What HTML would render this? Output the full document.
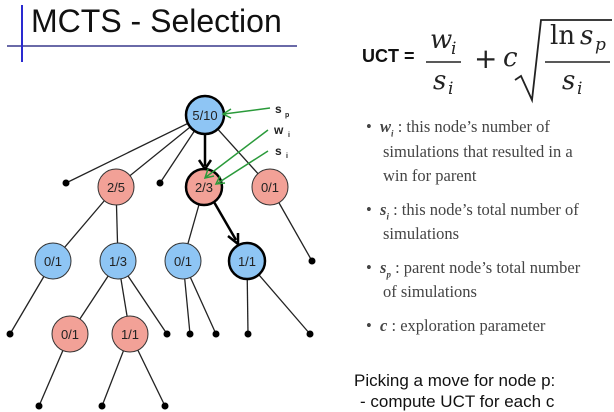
<!DOCTYPE html>
<html><head><style>
body{margin:0;width:614px;height:410px;overflow:hidden;background:#fff;position:relative;font-family:"Liberation Sans",sans-serif}
.t{position:absolute;white-space:nowrap}
.b{font-family:"Liberation Serif",serif;font-size:16.5px;color:#444;line-height:24.5px}
</style></head><body>
<svg width="614" height="410" style="position:absolute;left:0;top:0">
<line x1="7" y1="46" x2="297" y2="46" stroke="#6a6aa8" stroke-width="2"/>
<line x1="22" y1="5" x2="22" y2="62" stroke="#2a2ad0" stroke-width="2"/>
<g stroke="#222" stroke-width="1.3">
<line x1="205" y1="115" x2="66" y2="183"/><line x1="205" y1="115" x2="116" y2="187"/>
<line x1="205" y1="115" x2="160" y2="183"/><line x1="205" y1="115" x2="270" y2="187"/>
<line x1="116" y1="187" x2="53" y2="261"/><line x1="116" y1="187" x2="118" y2="261"/>
<line x1="204" y1="187" x2="183" y2="261"/>
<line x1="270" y1="187" x2="312" y2="261"/>
<line x1="53" y1="261" x2="10" y2="334"/>
<line x1="118" y1="261" x2="70" y2="334"/><line x1="118" y1="261" x2="130" y2="334"/><line x1="118" y1="261" x2="167" y2="334"/>
<line x1="183" y1="261" x2="190" y2="334"/><line x1="183" y1="261" x2="216" y2="334"/>
<line x1="247" y1="261" x2="248" y2="334"/><line x1="247" y1="261" x2="310" y2="334"/>
<line x1="70" y1="334" x2="39" y2="406"/>
<line x1="130" y1="334" x2="102" y2="406"/><line x1="130" y1="334" x2="165" y2="406"/>
</g>
<g stroke="#000" stroke-width="2.5" fill="none">
<line x1="205" y1="133" x2="205" y2="166"/><polyline points="199,160 205,169 211,160"/>
<line x1="214" y1="202" x2="236" y2="240"/><polyline points="228,236 238,244 238,233"/>
</g>
<g fill="#000">
<circle cx="66" cy="183" r="3.5"/><circle cx="160" cy="183" r="3.5"/><circle cx="312" cy="261" r="3.5"/>
<circle cx="10" cy="334" r="3.5"/><circle cx="167" cy="334" r="3.5"/><circle cx="190" cy="334" r="3.5"/>
<circle cx="216" cy="334" r="3.5"/><circle cx="248" cy="334" r="3.5"/><circle cx="310" cy="334" r="3.5"/>
<circle cx="39" cy="406" r="3.5"/><circle cx="102" cy="406" r="3.5"/><circle cx="165" cy="406" r="3.5"/>
</g>
<g font-family="Liberation Sans,sans-serif" font-size="13" text-anchor="middle" fill="#222">
<circle cx="205" cy="115" r="19" fill="#8ec5f4" stroke="#000" stroke-width="2.5"/><text x="205" y="120">5/10</text>
<circle cx="116" cy="187" r="18" fill="#f2a197" stroke="#333"/><text x="116" y="192">2/5</text>
<circle cx="204" cy="187" r="18" fill="#f2a197" stroke="#000" stroke-width="2.5"/><text x="204" y="192">2/3</text>
<circle cx="270" cy="187" r="18" fill="#f2a197" stroke="#333"/><text x="270" y="192">0/1</text>
<circle cx="53" cy="261" r="18" fill="#8ec5f4" stroke="#333"/><text x="53" y="266">0/1</text>
<circle cx="118" cy="261" r="18" fill="#8ec5f4" stroke="#333"/><text x="118" y="266">1/3</text>
<circle cx="183" cy="261" r="18" fill="#8ec5f4" stroke="#333"/><text x="183" y="266">0/1</text>
<circle cx="247" cy="261" r="18" fill="#8ec5f4" stroke="#000" stroke-width="2.5"/><text x="247" y="266">1/1</text>
<circle cx="70" cy="334" r="18" fill="#f2a197" stroke="#333"/><text x="70" y="339">0/1</text>
<circle cx="130" cy="334" r="18" fill="#f2a197" stroke="#333"/><text x="130" y="339">1/1</text>
</g>
<g stroke="#2a9a3a" stroke-width="1.5" fill="none">
<line x1="270" y1="108" x2="224" y2="114"/><polyline points="231,109 223,114 231,118"/>
<line x1="268" y1="130" x2="206" y2="177"/><polyline points="208,169 205,178 214,176"/>
<line x1="268" y1="151" x2="218" y2="183"/><polyline points="220,176 216,184 225,183"/>
</g>
<g font-family="Liberation Sans,sans-serif" font-weight="bold" font-size="12" fill="#222">
<text x="275" y="113">s</text><text x="285" y="117" font-size="7">p</text>
<text x="274" y="134">w</text><text x="288" y="137" font-size="7">i</text>
<text x="275" y="155">s</text><text x="286" y="158" font-size="7">i</text>
</g>
<g font-family="DejaVu Serif,serif" font-style="italic" font-size="26" fill="#222">
<text x="430" y="48">w</text><text x="451" y="54" font-size="17">i</text>
<text x="433" y="89">s</text><text x="448" y="94" font-size="17">i</text>
<text x="503" y="66">c</text>
<text x="550" y="44" font-style="normal">ln</text><text x="580" y="44">s</text><text x="595" y="50" font-size="17">p</text>
<text x="562" y="89">s</text><text x="577" y="94" font-size="17">i</text>
</g>
<text x="474" y="68" font-family="DejaVu Sans,sans-serif" font-size="28" fill="#222">+</text>
<line x1="426" y1="62" x2="461" y2="62" stroke="#222" stroke-width="1.5"/>
<line x1="545" y1="62" x2="610" y2="62" stroke="#222" stroke-width="1.5"/>
<polyline points="515,80 521,76 532,100 541,20 612,20" fill="none" stroke="#222" stroke-width="1.8"/>
</svg>
<div class="t" style="left:31px;top:3px;font-size:32px;color:#111">MCTS - Selection</div>
<div class="t" style="left:362px;top:46px;font-size:18px;font-weight:bold;color:#111">UCT =</div>
<div class="t b" style="left:366px;top:115px">•&nbsp; <b><i>w<sub style="font-size:9px">i</sub></i></b> : this node’s number of</div>
<div class="t b" style="left:383px;top:140px">simulations that resulted in a</div>
<div class="t b" style="left:383px;top:164px">win for parent</div>
<div class="t b" style="left:366px;top:198px">•&nbsp; <b><i>s<sub style="font-size:9px">i</sub></i></b> : this node’s total number of</div>
<div class="t b" style="left:383px;top:222px">simulations</div>
<div class="t b" style="left:366px;top:256px">•&nbsp; <b><i>s<sub style="font-size:9px">p</sub></i></b> : parent node’s total number</div>
<div class="t b" style="left:383px;top:280px">of simulations</div>
<div class="t b" style="left:366px;top:314px">•&nbsp; <b><i>c</i></b> : exploration parameter</div>
<div class="t" style="left:354px;top:371px;font-size:17px;color:#111">Picking a move for node p:</div>
<div class="t" style="left:360px;top:392px;font-size:17px;color:#111">- compute UCT for each c</div>
</body></html>
